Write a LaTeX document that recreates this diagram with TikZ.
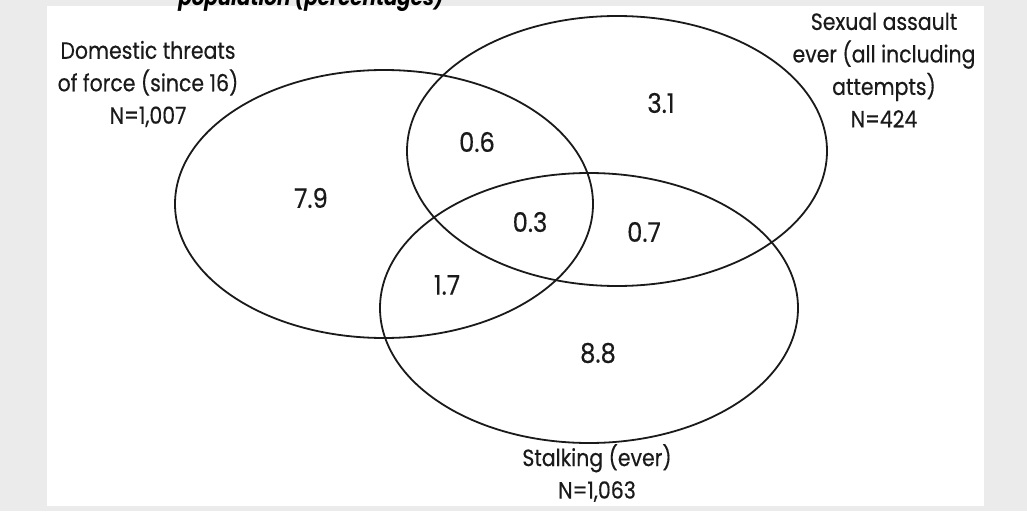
\documentclass[tikz,border=0pt]{standalone}
\usepackage{fontspec}
\setmainfont{Poppins}
\newfontfamily\labfont[FakeStretch=0.87,FakeBold=0.4]{Poppins}
\newfontfamily\numfont[FakeStretch=0.9,FakeBold=0.4]{Poppins}
\newfontfamily\titlefont[FakeStretch=0.9]{Poppins}
\definecolor{bggray}{HTML}{EBEBEB}
\definecolor{inkgray}{HTML}{1A1A1A}
\begin{document}
\begin{tikzpicture}[x=1pt,y=-1pt,
  venn/.style={draw=inkgray,line width=1.8pt},
  setlabel/.style={inner sep=0pt,align=center,text=inkgray,font=\labfont\fontsize{23.5}{32.5}\selectfont},
  numlabel/.style={inner sep=0pt,text=inkgray,font=\numfont\fontsize{27}{30}\selectfont},
  titletext/.style={inner sep=0pt,anchor=base,font=\titlefont\bfseries\itshape\fontsize{22}{26}\selectfont}]
\useasboundingbox (0,0) rectangle (1027,511);
\fill[bggray] (0,0) rectangle (1027,511);
\fill[white] (47,6) rectangle (984,506);
\node[titletext] (title) at (311,6) {population (percentages)};
% ellipses
\draw[venn] (384,204) ellipse [x radius=209, y radius=134];
\draw[venn] (617,151) ellipse [x radius=210, y radius=135];
\draw[venn] (589,308) ellipse [x radius=209, y radius=135];
% set labels
\node[setlabel] (dom) at (148,84) {Domestic threats\\of force (since 16)\\N=1,007};
\node[setlabel] (sex) at (884,70) {Sexual assault\\ever (all including\\attempts)\\N=424};
\node[setlabel] (stalk) at (597,473) {Stalking (ever)\\N=1,063};
% numbers
\node[numlabel] (n79) at (311,198) {7.9};
\node[numlabel] (n06) at (477,142) {0.6};
\node[numlabel] (n31) at (661,103) {3.1};
\node[numlabel] (n03) at (530,222) {0.3};
\node[numlabel] (n07) at (644,232) {0.7};
\node[numlabel] (n17) at (447,285) {1.7};
\node[numlabel] (n88) at (598,353) {8.8};
\end{tikzpicture}
\end{document}
